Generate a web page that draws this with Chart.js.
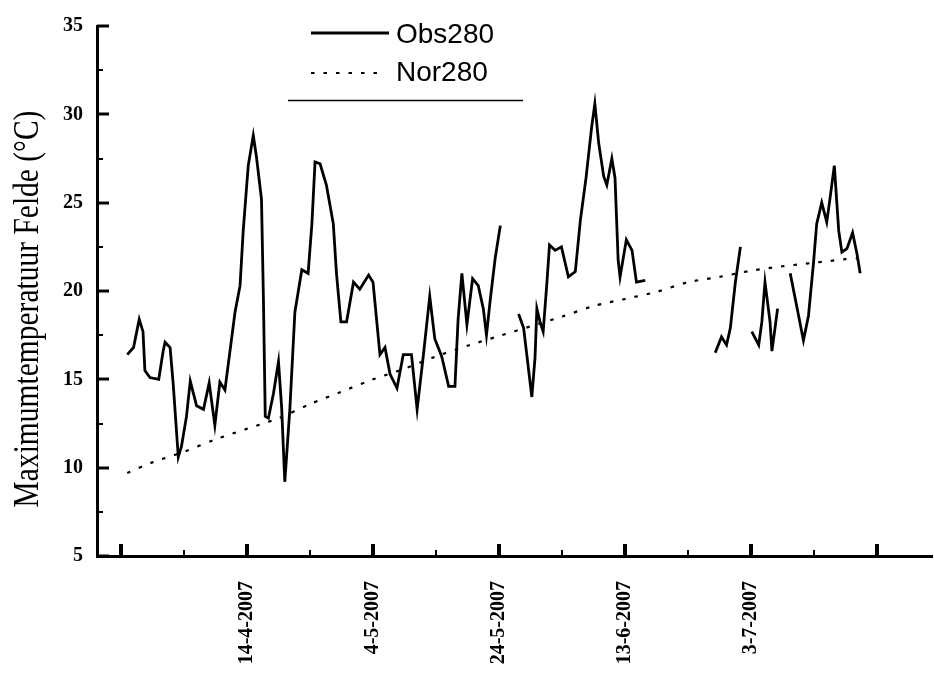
<!DOCTYPE html>
<html>
<head>
<meta charset="utf-8">
<script src="https://cdn.jsdelivr.net/npm/chart.js@4.4.0/dist/chart.umd.min.js"></script>
<style>
  html, body { margin: 0; padding: 0; background: #fff; }
  #wrap { width: 934px; height: 674px; position: relative; }
</style>
</head>
<body>
<div id="wrap"><canvas id="c" width="934" height="674"></canvas></div>
<script>
// Days counted from 25-3-2007 (day 0); null marks a break in the record
const obsDay = [
  1, 2, 2.9, 3.5, 3.8, 4.6, 6, 6.7, 7, 7.8, 8.3, 9.1, 9.6, 10.4, 11, 11.5, 12, 13.1, 14, 14.9,
  15.7, 16.5, 17.3, 18.1, 18.9, 19.4, 20.2, 21, 21.5, 22.3, 22.6, 22.9, 23.4, 24.2, 25, 25.5, 26, 26.8, 27.6, 28.7,
  29.7, 30.3, 30.8, 31.6, 32.6, 33.7, 34.2, 34.9, 35.8, 36.9, 37.9, 39.3, 40, 40.6, 41.1, 41.9, 42.7, 43.8, 44.8, 46.1,
  47, 48, 49, 49.8, 50.9, 52, 53, 53.5, 54.1, 54.9, 55.8, 56.7, 57.5, 58, 58.6, 59.4, 60.2,
  61.5,
  63.1, 63.9, 64.4, 65.2, 65.7, 66, 66.5, 67, 67.6, 68, 68.9, 69.9, 71, 72.1, 72.9, 73.8, 74.7, 75.2, 75.8, 76.6,
  77.1, 77.9, 78.4, 78.9, 79.2, 80.2, 81.1, 81.8, 83.2,
  88,
  94.3, 95.3, 96.1, 96.7, 97.5, 98.3,
  99.2,
  100.1, 101.2, 101.7, 102.2, 103, 103.3, 104.2,
  105.2,
  106.2, 107.2, 108.3, 109.1, 109.9, 110.4, 111.2, 112, 112.5, 113.2, 113.9, 114.4, 115.2, 116.1, 116.8, 117.3
];
const obsTemp = [
  16.4, 16.8, 18.4, 17.7, 15.5, 15.1, 15.0, 16.6, 17.1, 16.8, 14.7, 10.6, 11.2, 12.9, 14.9, 14.2, 13.5, 13.3, 14.8, 12.4,
  14.85, 14.4, 16.6, 18.8, 20.3, 23.4, 27.1, 28.8, 27.6, 25.2, 19.7, 12.9, 12.8, 14.2, 16.0, 13.4, 9.2, 13.3, 18.8, 21.2,
  21.0, 23.8, 27.3, 27.2, 26.0, 23.8, 21.0, 18.25, 18.25, 20.5, 20.1, 20.9, 20.5, 18.25, 16.4, 16.8, 15.3, 14.5, 16.4, 16.4,
  13.3, 16.4, 19.7, 17.3, 16.3, 14.6, 14.6, 18.4, 21.0, 18.1, 20.7, 20.3, 19.0, 17.5, 19.5, 21.9, 23.7,
  null,
  18.7, 17.9, 16.4, 14.0, 16.2, 19.0, 18.25, 17.7, 20.5, 22.6, 22.3, 22.5, 20.8, 21.1, 24.0, 26.4, 29.3, 30.6, 28.4, 26.5,
  26.0, 27.5, 26.4, 21.75, 20.8, 22.9, 22.3, 20.5, 20.6,
  null,
  16.5, 17.4, 16.95, 17.9, 20.5, 22.5,
  null,
  17.7, 16.95, 18.25, 20.5, 18.25, 16.6, 19.0,
  null,
  21.0, 19.2, 17.2, 18.6, 21.6, 23.8, 25.0, 23.9, 25.2, 27.1, 23.4, 22.2, 22.4, 23.3, 22.1, 21.0
];
const norDay = [1, 5, 10, 15, 20, 25, 30, 35, 40, 45, 50, 55, 60, 65, 70, 75, 80, 85, 90, 95, 100, 105, 110, 115, 117];
const norTemp = [9.7, 10.3, 10.9, 11.6, 12.2, 12.8, 13.6, 14.3, 15.0, 15.6, 16.3, 16.9, 17.45, 18.0, 18.55, 19.15, 19.55, 19.95, 20.5, 20.8, 21.15, 21.4, 21.6, 21.8, 21.85];

const tickDays = [20, 40, 60, 80, 100];
const tickLabels = ['14-4-2007', '4-5-2007', '24-5-2007', '13-6-2007', '3-7-2007'];
const seriesNames = ['Obs280', 'Nor280'];
const yTitle = 'Maximumtemperatuur Felde (°C)';

const serif = '"Liberation Serif", "Times New Roman", serif';
const sans = '"Liberation Sans", Arial, sans-serif';

// Inward tick marks on both axes (majors long and heavy, minors short)
const innerTicks = {
  id: 'innerTicks',
  afterDraw(chart) {
    const { ctx, chartArea, scales } = chart;
    ctx.save();
    ctx.strokeStyle = '#000';
    for (let d = 0; d <= 120; d += 10) {
      const px = Math.round(scales.x.getPixelForValue(d));
      const major = d % 20 === 0;
      ctx.lineWidth = major ? 4 : 2;
      ctx.beginPath();
      ctx.moveTo(px, chartArea.bottom);
      ctx.lineTo(px, chartArea.bottom - (major ? 12 : 6));
      ctx.stroke();
    }
    for (let v = 5; v <= 35; v += 2.5) {
      const py = Math.round(scales.y.getPixelForValue(v));
      const major = v % 5 === 0;
      ctx.lineWidth = major ? 3 : 2;
      ctx.beginPath();
      ctx.moveTo(chartArea.left, py);
      ctx.lineTo(chartArea.left + (major ? 12 : 6), py);
      ctx.stroke();
    }
    ctx.restore();
  }
};

// Vertical axis title, drawn with slightly tall glyphs
const yTitlePlugin = {
  id: 'yTitlePlugin',
  afterDraw(chart) {
    const ctx = chart.ctx;
    ctx.save();
    ctx.translate(29, 309);
    ctx.rotate(-Math.PI / 2);
    ctx.scale(1, 1.2);
    ctx.fillStyle = '#000';
    ctx.font = '29.5px ' + serif;
    ctx.textAlign = 'center';
    ctx.textBaseline = 'middle';
    ctx.fillText(yTitle, 0, 0);
    ctx.restore();
  }
};

// Legend block in the upper part of the plot
const legendBlock = {
  id: 'legendBlock',
  afterDraw(chart) {
    const ctx = chart.ctx;
    const ds = chart.data.datasets;
    ctx.save();
    ctx.strokeStyle = '#000';
    ctx.fillStyle = '#000';
    ctx.font = '28px ' + sans;
    ctx.textBaseline = 'middle';
    ctx.textAlign = 'left';
    // solid sample
    ctx.lineWidth = 3.2;
    ctx.setLineDash([]);
    ctx.beginPath(); ctx.moveTo(311, 33); ctx.lineTo(389, 33); ctx.stroke();
    ctx.fillText(seriesNames[0], 396, 35);
    // dotted sample
    ctx.lineWidth = ds[1].borderWidth;
    ctx.setLineDash(ds[1].borderDash);
    ctx.beginPath(); ctx.moveTo(311, 73); ctx.lineTo(386, 73); ctx.stroke();
    ctx.fillText(seriesNames[1], 396, 73);
    // rule under the legend
    ctx.setLineDash([]);
    ctx.lineWidth = 1.5;
    ctx.beginPath(); ctx.moveTo(288, 100.5); ctx.lineTo(523, 100.5); ctx.stroke();
    ctx.restore();
  }
};

new Chart(document.getElementById('c'), {
  type: 'line',
  data: {
    datasets: [
      {
        label: seriesNames[0],
        data: obsDay.map((d, i) => ({ x: d, y: obsTemp[i] })),
        borderColor: '#000',
        borderWidth: 2.8,
        pointRadius: 0,
        tension: 0,
        spanGaps: false,
        fill: false
      },
      {
        label: seriesNames[1],
        data: norDay.map((d, i) => ({ x: d, y: norTemp[i] })),
        borderColor: '#000',
        borderWidth: 2.2,
        borderDash: [3.5, 9],
        pointRadius: 0,
        tension: 0.3,
        fill: false
      }
    ]
  },
  options: {
    responsive: false,
    animation: false,
    devicePixelRatio: 1,
    layout: { padding: { top: 15, right: 2, left: 0, bottom: 0 } },
    plugins: { legend: { display: false }, tooltip: { enabled: false } },
    scales: {
      x: {
        type: 'linear',
        min: -3.8,
        max: 128.7,
        afterBuildTicks(scale) {
          scale.ticks = tickDays.map(v => ({ value: v }));
        },
        afterFit(scale) { scale.height = 118; },
        grid: { display: false, drawTicks: false },
        border: { display: true, color: '#000', width: 3 },
        ticks: {
          autoSkip: false,
          minRotation: 90,
          maxRotation: 90,
          padding: 25,
          color: '#000',
          font: { family: serif, size: 20, weight: 'bold' },
          callback(value) {
            const i = tickDays.indexOf(value);
            return i >= 0 ? tickLabels[i] : '';
          }
        }
      },
      y: {
        min: 5,
        max: 35,
        afterBuildTicks(scale) {
          const t = [];
          for (let v = 5; v <= 35; v += 5) t.push({ value: v });
          scale.ticks = t;
        },
        afterFit(scale) { scale.width = 97; },
        grid: { display: false, drawTicks: false },
        border: { display: true, color: '#000', width: 3 },
        ticks: {
          padding: 14,
          color: '#000',
          font: { family: serif, size: 20, weight: 'bold' }
        }
      }
    }
  },
  plugins: [innerTicks, yTitlePlugin, legendBlock]
});
</script>
</body>
</html>
